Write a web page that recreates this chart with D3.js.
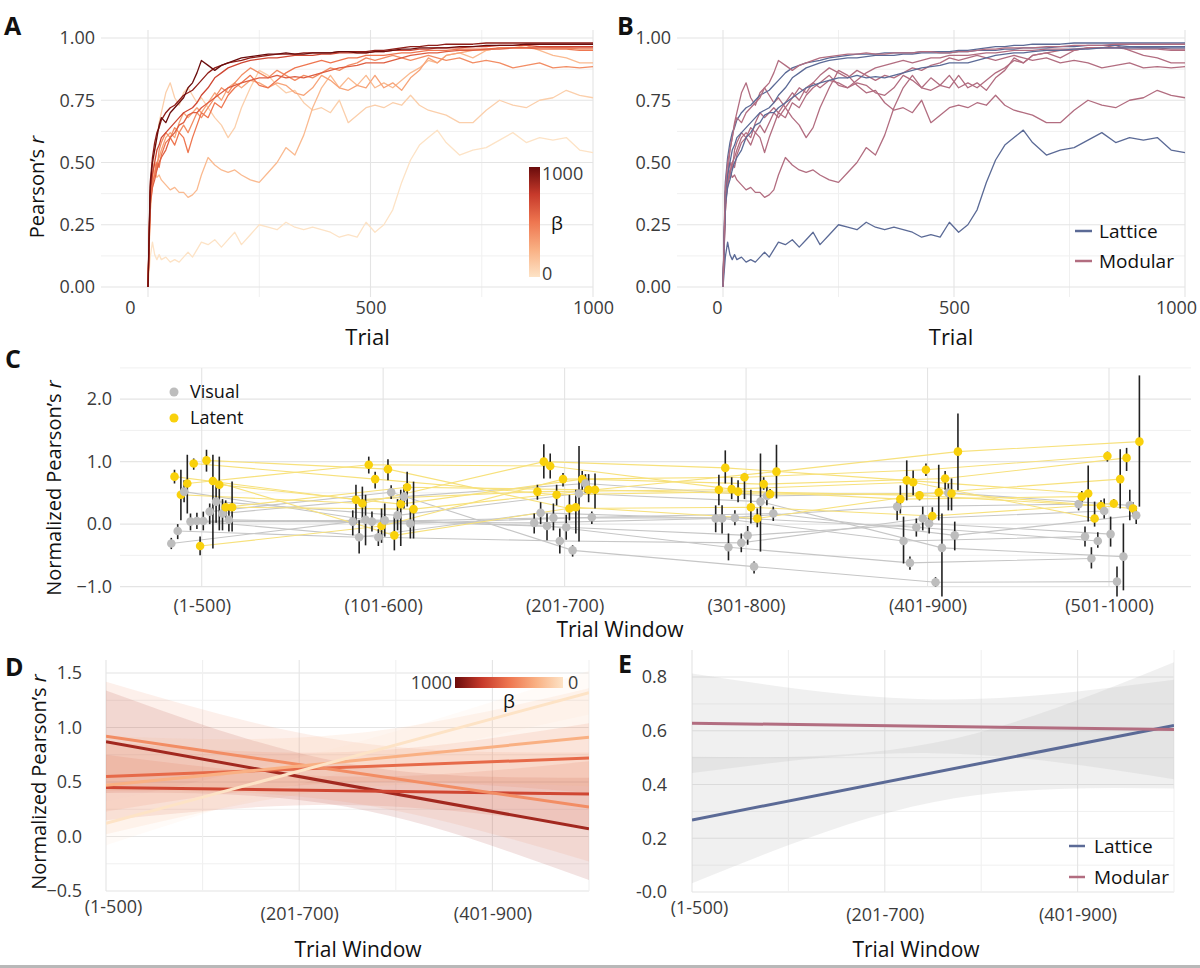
<!DOCTYPE html>
<html>
<head>
<meta charset="utf-8">
<script src="https://cdn.jsdelivr.net/npm/d3@7"></script>
<style>
  body { margin: 0; background: #fff; }
  svg { display: block; }
</style>
</head>
<body>
<svg id="fig" width="1200" height="968"></svg>
<script>
// ---------------- data ----------------
// panels A/B: running correlation per run
var trials = [0,5,10,15,20,25,30,40,50,60,70,80,90,100,110,120,135,150,165,180,195,210,
  230,250,270,290,310,330,350,370,390,410,430,450,470,490,510,530,550,570,590,610,630,650,670,
  700,730,760,790,820,850,880,910,940,970,1000];

var runBeta0 = [0,0.12,0.18,0.13,0.11,0.13,0.11,0.12,0.10,0.11,0.10,0.12,0.14,0.12,0.15,0.18,0.17,0.19,0.16,0.19,0.22,0.17,
  0.21,0.25,0.24,0.23,0.26,0.24,0.23,0.24,0.23,0.22,0.20,0.21,0.20,0.26,0.22,0.25,0.31,0.42,0.51,0.57,0.60,0.63,0.58,
  0.53,0.55,0.56,0.59,0.62,0.58,0.60,0.59,0.60,0.55,0.54];
var runBeta100 = [0,0.30,0.45,0.55,0.60,0.66,0.70,0.78,0.82,0.76,0.73,0.78,0.80,0.77,0.74,0.76,0.72,0.68,0.65,0.60,0.64,0.72,
  0.80,0.87,0.85,0.81,0.78,0.79,0.74,0.71,0.72,0.70,0.75,0.66,0.69,0.72,0.73,0.72,0.74,0.73,0.77,0.73,0.71,0.70,0.69,
  0.66,0.66,0.71,0.75,0.73,0.72,0.75,0.76,0.79,0.77,0.76];
var runBeta200 = [0,0.30,0.42,0.47,0.44,0.45,0.43,0.41,0.39,0.40,0.38,0.38,0.36,0.37,0.39,0.45,0.52,0.49,0.47,0.46,0.47,0.45,
  0.43,0.42,0.46,0.50,0.56,0.53,0.61,0.72,0.80,0.85,0.80,0.84,0.81,0.85,0.80,0.82,0.80,0.83,0.86,0.88,0.91,0.90,0.93,
  0.94,0.92,0.95,0.96,0.96,0.97,0.95,0.93,0.92,0.90,0.90];
var runBeta300 = [0,0.35,0.40,0.46,0.50,0.52,0.55,0.60,0.62,0.60,0.66,0.70,0.68,0.70,0.72,0.70,0.74,0.78,0.75,0.80,0.82,0.80,
  0.83,0.82,0.80,0.82,0.81,0.78,0.77,0.80,0.85,0.83,0.80,0.79,0.81,0.80,0.85,0.80,0.82,0.79,0.84,0.87,0.92,0.90,0.93,
  0.94,0.95,0.95,0.96,0.96,0.96,0.965,0.96,0.96,0.955,0.955];
var runBeta400 = [0,0.38,0.45,0.50,0.47,0.55,0.58,0.62,0.60,0.64,0.62,0.65,0.62,0.66,0.70,0.68,0.72,0.76,0.80,0.78,0.82,0.85,
  0.88,0.86,0.84,0.87,0.85,0.83,0.85,0.84,0.86,0.88,0.87,0.89,0.90,0.92,0.91,0.92,0.93,0.92,0.91,0.92,0.93,0.92,0.91,
  0.92,0.90,0.91,0.90,0.88,0.89,0.90,0.88,0.885,0.88,0.885];
var runBeta500 = [0,0.36,0.42,0.45,0.50,0.48,0.53,0.58,0.60,0.57,0.62,0.60,0.54,0.60,0.65,0.70,0.68,0.74,0.72,0.77,0.80,0.82,
  0.85,0.81,0.80,0.83,0.86,0.88,0.89,0.90,0.91,0.90,0.91,0.92,0.92,0.93,0.93,0.93,0.935,0.94,0.94,0.945,0.95,0.95,0.95,
  0.955,0.955,0.955,0.96,0.96,0.96,0.955,0.955,0.955,0.95,0.95];
var runBeta600 = [0,0.33,0.40,0.43,0.47,0.50,0.52,0.55,0.60,0.62,0.65,0.66,0.69,0.70,0.70,0.72,0.74,0.76,0.78,0.80,0.81,0.82,
  0.83,0.84,0.84,0.85,0.84,0.845,0.84,0.85,0.86,0.87,0.88,0.885,0.89,0.90,0.90,0.90,0.91,0.92,0.93,0.935,0.94,0.94,0.945,
  0.95,0.95,0.955,0.955,0.96,0.96,0.96,0.96,0.96,0.96,0.96];
var runBeta700 = [0,0.38,0.45,0.50,0.55,0.57,0.60,0.62,0.64,0.66,0.68,0.70,0.71,0.72,0.74,0.77,0.80,0.84,0.86,0.88,0.89,0.90,
  0.91,0.915,0.92,0.92,0.925,0.93,0.93,0.93,0.935,0.935,0.94,0.94,0.94,0.94,0.945,0.945,0.95,0.95,0.95,0.955,0.955,0.96,0.96,
  0.96,0.965,0.965,0.97,0.97,0.97,0.965,0.965,0.965,0.965,0.965];
var runBeta900 = [0,0.42,0.52,0.58,0.62,0.64,0.67,0.70,0.72,0.73,0.75,0.77,0.78,0.79,0.81,0.83,0.86,0.88,0.89,0.90,0.905,0.91,
  0.92,0.925,0.93,0.935,0.935,0.935,0.94,0.94,0.94,0.94,0.945,0.945,0.945,0.945,0.95,0.95,0.955,0.96,0.965,0.965,0.97,0.97,0.975,
  0.975,0.975,0.98,0.98,0.98,0.98,0.98,0.98,0.98,0.98,0.98];
var runBeta1000 = [0,0.40,0.50,0.55,0.60,0.65,0.68,0.66,0.70,0.72,0.74,0.76,0.80,0.82,0.86,0.91,0.89,0.87,0.89,0.90,0.91,0.92,
  0.925,0.93,0.935,0.935,0.94,0.935,0.935,0.94,0.94,0.94,0.945,0.945,0.94,0.94,0.945,0.945,0.95,0.955,0.955,0.96,0.96,0.96,0.96,
  0.965,0.965,0.97,0.97,0.97,0.975,0.975,0.975,0.975,0.975,0.975];

var runs = [runBeta0, runBeta100, runBeta200, runBeta300, runBeta400, runBeta500, runBeta600, runBeta700, runBeta900, runBeta1000];
var runBeta = [0, 100, 200, 300, 400, 500, 600, 700, 900, 1000];
var runGraph = ["Lattice","Modular","Modular","Modular","Modular","Modular","Lattice","Lattice","Lattice","Modular"];

// panel C: normalized r per trial window, 10 subjects
var windows = ["(1-500)","(101-600)","(201-700)","(301-800)","(401-900)","(501-1000)"];

var visualMean = [
  [-0.31,-0.11, 0.52, 0.04, 0.05, 0.05, 0.20, 0.36, 0.17, 0.07],
  [ 0.04,-0.21, 0.07, 0.04,-0.21, 0.06, 0.51, 0.14, 0.44, 0.01],
  [ 0.02, 0.18,-0.03, 0.10,-0.27,-0.05,-0.42, 0.49, 0.65, 0.11],
  [ 0.09, 0.09,-0.37, 0.10,-0.30,-0.18,-0.68, 0.36, 0.45, 0.17],
  [ 0.28,-0.27,-0.62,-0.05, 0.09, 0.01,-0.93,-0.38, 0.50,-0.18],
  [ 0.32,-0.20,-0.55,-0.27, 0.21,-0.16,-0.92,-0.52, 0.30, 0.14]];
var visualLo = [
  [-0.40,-0.24, 0.35,-0.10,-0.08,-0.10, 0.00, 0.02,-0.10,-0.12],
  [-0.18,-0.47,-0.34,-0.12,-0.35,-0.20, 0.40,-0.10, 0.25,-0.23],
  [-0.15, 0.00,-0.26,-0.10,-0.47,-0.25,-0.52,-0.28, 0.50, 0.00],
  [-0.13,-0.15,-0.58,-0.02,-0.45,-0.33,-0.79,-0.44, 0.30, 0.05],
  [ 0.06,-0.63,-0.73,-0.20,-0.10,-0.15,-1.00,-1.16, 0.22,-0.42],
  [ 0.22,-0.36,-0.71,-0.38, 0.09,-0.36,-1.16,-1.06, 0.06, 0.00]];
var visualHi = [
  [-0.22, 0.00, 0.70, 0.17, 0.18, 0.20, 0.33, 0.62, 0.40, 0.24],
  [ 0.22, 0.06, 0.47, 0.20,-0.08, 0.33, 0.62, 0.40, 0.62, 0.25],
  [ 0.17, 0.35, 0.17, 0.33,-0.07, 0.15,-0.34, 1.25, 0.80, 0.20],
  [ 0.30, 0.30,-0.15, 0.22,-0.15,-0.03,-0.60, 1.13, 0.60, 0.28],
  [ 0.36, 0.12,-0.52, 0.09, 0.28, 0.13,-0.85, 0.17, 0.65, 0.04],
  [ 0.36,-0.04,-0.37,-0.13, 0.41, 0.12,-0.68, 0.01, 0.55, 0.28]];

var latentMean = [
  [ 0.76, 0.47, 0.65, 0.97,-0.35, 1.02, 0.69, 0.63, 0.27, 0.27],
  [ 0.39, 0.33, 0.95, 0.72,-0.03, 0.88,-0.18, 0.32, 0.59, 0.24],
  [ 0.52, 1.00, 0.93, 0.47, 0.72, 0.25, 0.27, 0.72, 0.55, 0.55],
  [ 0.55, 0.90, 0.56, 0.52, 0.75, 0.27, 0.09, 0.64, 0.48, 0.84],
  [ 0.40, 0.70, 0.67, 0.46, 0.87, 0.13, 0.51, 0.73, 0.49, 1.16],
  [ 0.44, 0.49, 0.09, 0.29, 1.09, 0.33, 0.72, 1.06, 0.25, 1.32]];
var latentLo = [
  [ 0.65, 0.06, 0.17, 0.87,-0.50, 0.84,-0.39,-0.10, 0.10,-0.12],
  [ 0.01, 0.10, 0.81, 0.57,-0.30, 0.70,-0.42,-0.35, 0.28,-0.23],
  [ 0.39, 0.73, 0.73, 0.30, 0.60, 0.06,-0.15, 0.55, 0.35, 0.25],
  [ 0.30, 0.65, 0.40, 0.35, 0.40, 0.01,-0.05, 0.55, 0.42, 0.41],
  [ 0.17, 0.38, 0.46, 0.38, 0.77, 0.06, 0.06, 0.55, 0.22, 0.54],
  [ 0.35, 0.04,-0.04, 0.20, 1.00, 0.27, 0.25, 0.85, 0.15, 0.28]];
var latentHi = [
  [ 0.87, 0.87, 1.11, 1.05,-0.20, 1.19, 1.11, 1.08, 0.38, 0.68],
  [ 0.63, 0.60, 1.08, 0.84, 0.25, 1.04, 0.12, 0.55, 0.84, 0.68],
  [ 0.63, 1.28, 1.13, 0.63, 0.82, 0.47, 0.55, 0.85, 0.80, 0.81],
  [ 0.79, 1.18, 0.75, 0.70, 0.82, 0.55, 0.25, 0.75, 0.56, 1.27],
  [ 0.62, 1.02, 0.86, 0.53, 0.97, 0.27, 0.95, 0.85, 0.73, 1.77],
  [ 0.53, 0.94, 0.36, 0.38, 1.16, 0.40, 1.20, 1.22, 0.35, 2.38]];

// panel D: linear fits per beta group (value at first and last window)
var fitBeta = [850, 700, 550, 400, 250, 0];
var fitStart = [0.87, 0.45, 0.55, 0.92, 0.47, 0.12];
var fitEnd = [0.07, 0.39, 0.72, 0.27, 0.91, 1.32];
var fitBandEnd = [0.47, 0.30, 0.32, 0.50, 0.45, 0.20];
var fitBandMid = [0.20, 0.13, 0.14, 0.28, 0.25, 0.12];

// panel E: linear fits per graph type
var graphTypes = ["Lattice", "Modular"];
var graphStart = [0.268, 0.628];
var graphEnd = [0.62, 0.605];
var graphBandEnd = [0.235, 0.185];
var graphBandMid = [0.11, 0.10];

var windowTicks = [1, 3, 5];

// ---------------- setup ----------------
var FONT = "'Open Sans', sans-serif";
var GRID_MAJOR = "#e4e4e4";
var GRID_MINOR = "#f0f0f0";
var TICK_COLOR = "#3b3b3b";
var graphColor = { Lattice: "#5b6a96", Modular: "#b26d80" };

var betaColor = d3.scaleLinear()
  .domain([0, 250, 500, 750, 1000])
  .range(["#fde3c6", "#f9b083", "#ee7650", "#c73a2b", "#6a0c0c"]);

var svg = d3.select("#fig").attr("font-family", FONT);
svg.append("rect").attr("width", 1200).attr("height", 968).attr("fill", "#fff");

function hLines(g, vals, y, x1, x2, color, w) {
  g.selectAll(null).data(vals).enter().append("line")
    .attr("x1", x1).attr("x2", x2)
    .attr("y1", function (d) { return y(d); })
    .attr("y2", function (d) { return y(d); })
    .attr("stroke", color).attr("stroke-width", w);
}

function vLines(g, vals, x, y1, y2, color, w) {
  g.selectAll(null).data(vals).enter().append("line")
    .attr("y1", y1).attr("y2", y2)
    .attr("x1", function (d) { return x(d); })
    .attr("x2", function (d) { return x(d); })
    .attr("stroke", color).attr("stroke-width", w);
}

function styleAxis(g, size) {
  g.select(".domain").remove();
  g.attr("font-size", size).attr("font-family", FONT);
  g.selectAll("text").attr("fill", TICK_COLOR);
}

function text(g, str, x, y, size, anchor) {
  return g.append("text").attr("x", x).attr("y", y)
    .attr("font-size", size).attr("text-anchor", anchor || "start")
    .attr("fill", "#111").text(str);
}

function panelLetter(str, x, y) {
  svg.append("text").attr("x", x).attr("y", y)
    .attr("font-size", 25).attr("font-weight", 700)
    .attr("fill", "#111").text(str);
}

function pearsonTitle(g, prefix, x, y) {
  var t = g.append("text")
    .attr("transform", "translate(" + x + "," + y + ") rotate(-90)")
    .attr("text-anchor", "middle").attr("font-size", 20).attr("fill", "#111");
  t.append("tspan").text(prefix + "Pearson\u2019s ");
  t.append("tspan").attr("font-style", "italic").text("r");
}

var defs = svg.append("defs");

// ---------------- panels A & B ----------------
function trialPanel(x0, x1, left, colorOf) {
  var g = svg.append("g");
  var x = d3.scaleLinear().domain([0, 1000]).range([x0, x1]);
  var y = d3.scaleLinear().domain([0, 1]).range([287, 38]);

  hLines(g, [0.125, 0.375, 0.625, 0.875], y, left, x1, GRID_MINOR, 1);
  vLines(g, [250, 750], x, 30, 297, GRID_MINOR, 1);
  hLines(g, [0, 0.25, 0.5, 0.75, 1], y, left, x1, GRID_MAJOR, 1.1);
  vLines(g, [0, 500, 1000], x, 30, 297, GRID_MAJOR, 1.1);

  var line = d3.line()
    .x(function (d, i) { return x(trials[i]); })
    .y(function (d) { return y(d); });

  g.selectAll(".run").data(runs).enter().append("path")
    .attr("class", "run")
    .attr("d", line)
    .attr("fill", "none")
    .attr("stroke", function (d, i) { return colorOf(i); })
    .attr("stroke-width", 1.3)
    .attr("stroke-linejoin", "round");

  var ya = g.append("g").attr("transform", "translate(" + (left - 6) + ",0)")
    .call(d3.axisLeft(y).tickValues([0, 0.25, 0.5, 0.75, 1]).tickFormat(d3.format(".2f")).tickSize(0).tickPadding(0));
  styleAxis(ya, 18);

  var xa = g.append("g").attr("transform", "translate(0,297)")
    .call(d3.axisBottom(x).tickValues([0, 500, 1000]).tickFormat(d3.format("d")).tickSize(0).tickPadding(4));
  styleAxis(xa, 18);

  text(g, "Trial", x(500) - 3, 345, 22, "middle");
  return { g: g, x: x, y: y, xa: xa };
}

var pA = trialPanel(148, 593, 101, function (i) { return betaColor(runBeta[i]); });
pA.xa.selectAll(".tick text").filter(function (d) { return d === 0; }).attr("dx", -18);
pearsonTitle(pA.g, "", 44, 187);
panelLetter("A", 4, 35);

// beta colour bar (vertical)
var gradV = defs.append("linearGradient").attr("id", "betaV")
  .attr("x1", 0).attr("x2", 0).attr("y1", 1).attr("y2", 0);
gradV.selectAll("stop").data(betaColor.domain()).enter().append("stop")
  .attr("offset", function (d) { return d / 1000; })
  .attr("stop-color", function (d) { return betaColor(d); });
pA.g.append("rect").attr("x", 529).attr("y", 167).attr("width", 11).attr("height", 110)
  .attr("fill", "url(#betaV)");
text(pA.g, "1000", 542, 180, 18).attr("fill", TICK_COLOR);
text(pA.g, "\u03b2", 551, 230, 19).attr("fill", "#111");
text(pA.g, "0", 542, 280, 18).attr("fill", TICK_COLOR);

var pB = trialPanel(723, 1185, 677, function (i) { return graphColor[runGraph[i]]; });
pB.xa.selectAll(".tick text").filter(function (d) { return d === 0; }).attr("dx", -6);
pB.xa.selectAll(".tick text").filter(function (d) { return d === 1000; }).attr("dx", -9);
panelLetter("B", 617, 35);

graphTypes.forEach(function (k, i) {
  var yy = 231 + i * 30;
  pB.g.append("line").attr("x1", 1075).attr("x2", 1092).attr("y1", yy).attr("y2", yy)
    .attr("stroke", graphColor[k]).attr("stroke-width", 2.5);
  text(pB.g, k, 1099, yy + 7, 19);
});

// ---------------- panel C ----------------
var gC = svg.append("g");
var xC = d3.scalePoint().domain(windows).range([201.7, 1109]);
var yC = d3.scaleLinear().domain([-1, 2.5]).range([586.6, 367.9]);
var slot = d3.scaleBand().domain(d3.range(20)).range([-32, 32]);

hLines(gC, [-0.5, 0.5, 1.5, 2.5], yC, 120, 1191, GRID_MINOR, 1);
hLines(gC, [-1, 0, 1, 2], yC, 120, 1191, GRID_MAJOR, 1.1);
vLines(gC, windows, xC, 367.9, 586.6, GRID_MAJOR, 1.1);

var cTypes = [
  { name: "Visual", mean: visualMean, lo: visualLo, hi: visualHi, fill: "#bdbdbd", stroke: "#c6c6c6" },
  { name: "Latent", mean: latentMean, lo: latentLo, hi: latentHi, fill: "#f9d10c", stroke: "#f7e17c" }
];

function cx(w, s, t) {
  return xC(windows[w]) + slot(s * 2 + t) + slot.bandwidth() / 2;
}

var subjects = d3.range(10);
cTypes.forEach(function (ty, t) {
  var path = d3.line()
    .x(function (d) { return cx(d.w, d.s, t); })
    .y(function (d) { return yC(d.v); });
  gC.selectAll(null).data(subjects).enter().append("path")
    .attr("d", function (s) {
      return path(windows.map(function (wn, w) { return { w: w, s: s, v: ty.mean[w][s] }; }));
    })
    .attr("fill", "none").attr("stroke", ty.stroke).attr("stroke-width", 1.1);
});

var cPoints = [];
windows.forEach(function (wn, w) {
  subjects.forEach(function (s) {
    cTypes.forEach(function (ty, t) {
      cPoints.push({ w: w, s: s, t: t, v: ty.mean[w][s], lo: ty.lo[w][s], hi: ty.hi[w][s], fill: ty.fill });
    });
  });
});

gC.selectAll(".bar").data(cPoints).enter().append("line")
  .attr("class", "bar")
  .attr("x1", function (d) { return cx(d.w, d.s, d.t); })
  .attr("x2", function (d) { return cx(d.w, d.s, d.t); })
  .attr("y1", function (d) { return yC(d.lo); })
  .attr("y2", function (d) { return yC(d.hi); })
  .attr("stroke", "#222").attr("stroke-width", 1.6);

gC.selectAll(".pt").data(cPoints).enter().append("circle")
  .attr("class", "pt")
  .attr("cx", function (d) { return cx(d.w, d.s, d.t); })
  .attr("cy", function (d) { return yC(d.v); })
  .attr("r", 4.3)
  .attr("fill", function (d) { return d.fill; });

var yaC = gC.append("g").attr("transform", "translate(112,0)")
  .call(d3.axisLeft(yC).tickValues([-1, 0, 1, 2]).tickFormat(d3.format(".1f")).tickSize(0).tickPadding(0));
styleAxis(yaC, 18);
var xaC = gC.append("g").attr("transform", "translate(0,587)")
  .call(d3.axisBottom(xC).tickSize(0).tickPadding(12));
styleAxis(xaC, 18);

pearsonTitle(gC, "Normalized ", 61, 488);
text(gC, "Trial Window", 620, 637, 21, "middle");
panelLetter("C", 5, 368);

cTypes.forEach(function (ty, i) {
  var yy = 392 + i * 26;
  gC.append("circle").attr("cx", 174).attr("cy", yy).attr("r", 4.5).attr("fill", ty.fill);
  text(gC, ty.name, 190, yy + 6, 18);
});

// ---------------- panels D & E ----------------
function windowPanel(x0, x1, top, bottom, y, yMajor, yMinor, labelRight, fmt) {
  var g = svg.append("g");
  var x = d3.scaleLinear().domain([1, 6]).range([x0, x1]);
  hLines(g, yMinor, y, x0, x1, GRID_MINOR, 1);
  hLines(g, yMajor, y, x0, x1, GRID_MAJOR, 1.1);
  vLines(g, [2, 4, 6], x, top, bottom, GRID_MINOR, 1.1);
  vLines(g, windowTicks, x, top, bottom, GRID_MAJOR, 1.1);

  var ya = g.append("g").attr("transform", "translate(" + labelRight + ",0)")
    .call(d3.axisLeft(y).tickValues(yMajor).tickFormat(fmt).tickSize(0).tickPadding(0));
  styleAxis(ya, 18);
  var xa = g.append("g").attr("transform", "translate(0," + bottom + ")")
    .call(d3.axisBottom(x).tickValues(windowTicks)
      .tickFormat(function (d) { return windows[d - 1]; }).tickSize(0).tickPadding(16));
  styleAxis(xa, 18);
  xa.selectAll(".tick text").filter(function (d) { return d === 1; }).attr("dx", 7).attr("dy", "0.35em");
  return { g: g, x: x, xa: xa };
}

function fitAt(a, b, xv) { return a + (b - a) * (xv - 1) / 5; }

function ribbon(x, y, a, b, hEnd, hMid) {
  var pts = [1, 3.5, 6].map(function (xv) {
    var h = xv === 3.5 ? hMid : hEnd;
    var m = fitAt(a, b, xv);
    return { x: xv, lo: m - h, hi: m + h };
  });
  return d3.area().curve(d3.curveNatural)
    .x(function (d) { return x(d.x); })
    .y0(function (d) { return y(d.lo); })
    .y1(function (d) { return y(d.hi); })(pts);
}

// D
var yD = d3.scaleLinear().domain([-0.5, 1.5]).range([891, 673]);
var pD = windowPanel(106, 589, 660, 891, yD, [-0.5, 0, 0.5, 1, 1.5], [-0.25, 0.25, 0.75, 1.25], 82, d3.format(".1f"));
defs.append("clipPath").attr("id", "clipD").append("rect")
  .attr("x", 106).attr("y", 660).attr("width", 483).attr("height", 231);
var gDc = pD.g.append("g").attr("clip-path", "url(#clipD)");
gDc.selectAll(".rib").data(fitBeta).enter().append("path")
  .attr("d", function (b, i) { return ribbon(pD.x, yD, fitStart[i], fitEnd[i], fitBandEnd[i], fitBandMid[i]); })
  .attr("fill", function (b) { return betaColor(b); })
  .attr("fill-opacity", 0.13);
gDc.selectAll(".fit").data(fitBeta).enter().append("line")
  .attr("x1", pD.x(1)).attr("x2", pD.x(6))
  .attr("y1", function (b, i) { return yD(fitStart[i]); })
  .attr("y2", function (b, i) { return yD(fitEnd[i]); })
  .attr("stroke", function (b) { return betaColor(b); })
  .attr("stroke-width", 3);
pearsonTitle(pD.g, "Normalized ", 46, 782);
text(pD.g, "Trial Window", 358, 957, 21, "middle");
panelLetter("D", 5, 676);

// horizontal colour bar
var gradH = defs.append("linearGradient").attr("id", "betaH")
  .attr("x1", 1).attr("x2", 0).attr("y1", 0).attr("y2", 0);
gradH.selectAll("stop").data(betaColor.domain()).enter().append("stop")
  .attr("offset", function (d) { return d / 1000; })
  .attr("stop-color", function (d) { return betaColor(d); });
pD.g.append("rect").attr("x", 455).attr("y", 677).attr("width", 108).attr("height", 11)
  .attr("fill", "url(#betaH)");
text(pD.g, "1000", 452, 689, 18, "end").attr("fill", TICK_COLOR);
text(pD.g, "0", 568, 689, 18).attr("fill", TICK_COLOR);
text(pD.g, "\u03b2", 509, 708, 19, "middle");

// E
var yE = d3.scaleLinear().domain([0, 0.8]).range([892, 677]);
var pE = windowPanel(692, 1174, 650, 892, yE, [0, 0.2, 0.4, 0.6, 0.8], [0.1, 0.3, 0.5, 0.7], 667,
  function (d) { return d === 0 ? "-0.0" : d3.format(".1f")(d); });
defs.append("clipPath").attr("id", "clipE").append("rect")
  .attr("x", 692).attr("y", 650).attr("width", 482).attr("height", 242);
var gEc = pE.g.append("g").attr("clip-path", "url(#clipE)");
gEc.selectAll(".rib").data(graphTypes).enter().append("path")
  .attr("d", function (k, i) { return ribbon(pE.x, yE, graphStart[i], graphEnd[i], graphBandEnd[i], graphBandMid[i]); })
  .attr("fill", "#bbbbbb").attr("fill-opacity", 0.22);
gEc.selectAll(".fit").data(graphTypes).enter().append("line")
  .attr("x1", pE.x(1)).attr("x2", pE.x(6))
  .attr("y1", function (k, i) { return yE(graphStart[i]); })
  .attr("y2", function (k, i) { return yE(graphEnd[i]); })
  .attr("stroke", function (k) { return graphColor[k]; })
  .attr("stroke-width", 3);
text(pE.g, "Trial Window", 916, 957, 21, "middle");
panelLetter("E", 618, 673);

graphTypes.forEach(function (k, i) {
  var yy = 846 + i * 31;
  pE.g.append("line").attr("x1", 1069).attr("x2", 1085).attr("y1", yy).attr("y2", yy)
    .attr("stroke", graphColor[k]).attr("stroke-width", 2.5);
  text(pE.g, k, 1094, yy + 7, 19);
});

// bottom rule
svg.append("rect").attr("x", 0).attr("y", 965).attr("width", 1200).attr("height", 3).attr("fill", "#b8b8b8");
</script>
</body>
</html>
